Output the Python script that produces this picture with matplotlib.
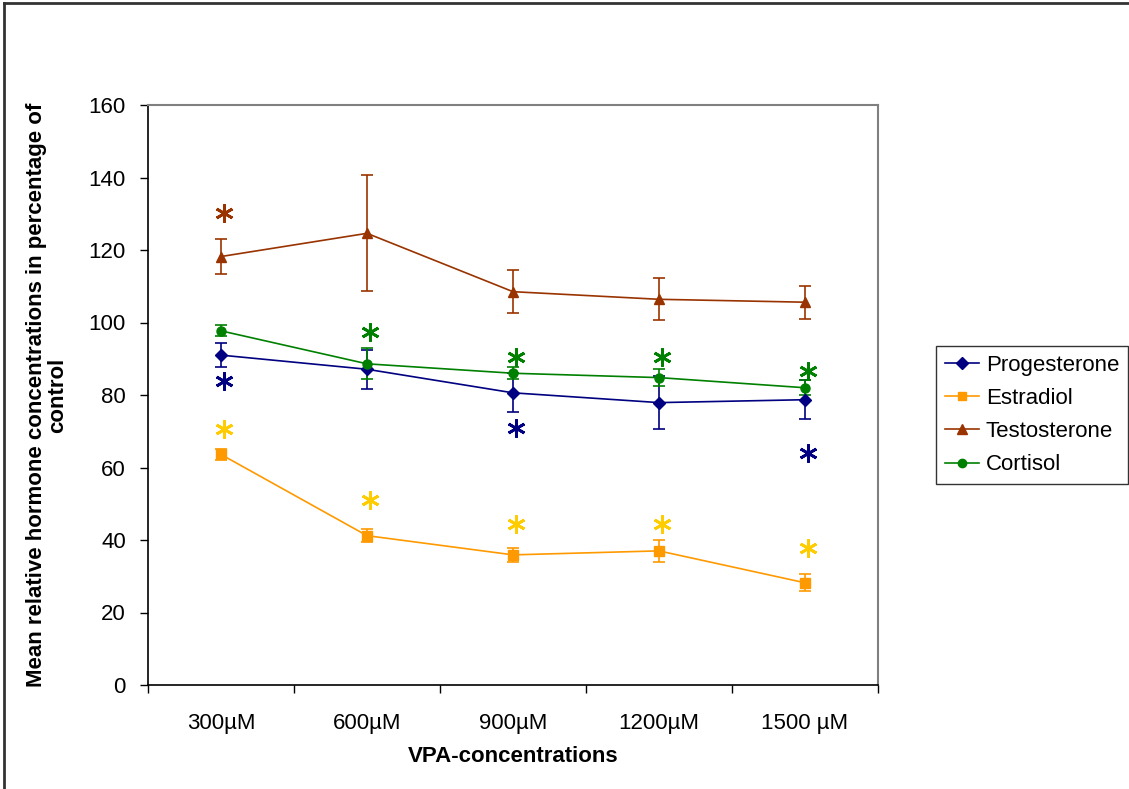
import matplotlib
matplotlib.use("Agg")
import matplotlib.pyplot as plt
from matplotlib.lines import Line2D
import numpy as np

plt.rcParams['font.family'] = ['Liberation Sans', 'DejaVu Sans']

# data
categories = ['300µM', '600µM', '900µM', '1200µM', '1500 µM']

progesterone = [91.0, 87.1, 80.6, 77.9, 78.7]
progesterone_err = [3.3, 5.4, 5.4, 7.3, 5.4]
estradiol = [63.6, 41.2, 35.9, 37.0, 28.2]
estradiol_err = [1.5, 1.8, 2.0, 3.0, 2.3]
testosterone = [118.2, 124.6, 108.5, 106.4, 105.6]
testosterone_err = [4.8, 16.0, 6.0, 5.8, 4.5]
cortisol = [97.7, 88.6, 86.0, 84.8, 82.0]
cortisol_err = [1.5, 4.3, 1.7, 2.3, 2.1]

# significance stars: (category index, y value)
stars_prog = [(0, 84.0), (2, 70.8), (4, 64.1)]
stars_estr = [(0, 70.6), (1, 51.0), (2, 44.3), (3, 44.3), (4, 37.7)]
stars_test = [(0, 130.3)]
stars_cort = [(1, 97.3), (2, 90.6), (3, 90.6), (4, 86.7)]

fig = plt.figure(figsize=(11.29, 7.89), dpi=100)
ax = fig.add_axes([148/1129, 104/789, 730/1129, 580/789])

x = np.arange(len(categories))

series = [
    ('Progesterone', progesterone, progesterone_err, '#000080', 'D', 6.5),
    ('Estradiol', estradiol, estradiol_err, '#FF9900', 's', 6.5),
    ('Testosterone', testosterone, testosterone_err, '#993300', '^', 7.5),
    ('Cortisol', cortisol, cortisol_err, '#008000', 'o', 6.5),
]
handles = []
for name, vals, err, col, mk, ms in series:
    ax.errorbar(x, vals, yerr=err, color=col, marker=mk, markersize=ms,
                linewidth=1.2, elinewidth=1.2, capsize=4, capthick=1.2)
    handles.append(Line2D([], [], color=col, marker=mk, markersize=ms - 0.5,
                          linewidth=1.2, label=name))

star_sets = [
    (stars_prog, '#000080'),
    (stars_estr, '#FFCC00'),
    (stars_test, '#993300'),
    (stars_cort, '#008000'),
]
for pts, col in star_sets:
    for i, yv in pts:
        ax.plot(i + 0.02, yv, marker=(6, 2, 0), color=col, markersize=13,
                markeredgewidth=2.0, linestyle='none')

ax.set_xlim(-0.5, len(categories) - 0.5)
ax.set_ylim(0, 160)
ax.set_yticks(np.arange(0, 161, 20))
ax.set_xticks(np.arange(-0.5, len(categories), 1.0))
ax.set_xticklabels([])
ax.set_xticks(x, minor=True)
ax.set_xticklabels(categories, minor=True)
ax.tick_params(axis='x', which='major', direction='out', length=6, width=1)
ax.tick_params(axis='x', which='minor', length=0, pad=20, labelsize=16)
ax.tick_params(axis='y', direction='out', length=6, width=1, pad=10, labelsize=16)

for s in ['top', 'right']:
    ax.spines[s].set_color('#808080')
    ax.spines[s].set_linewidth(1.5)
for s in ['left', 'bottom']:
    ax.spines[s].set_color('black')
    ax.spines[s].set_linewidth(1.2)

ax.set_xlabel('VPA-concentrations', fontsize=16, fontweight='bold')
ax.xaxis.set_label_coords(0.5, -0.105)
ax.set_ylabel('Mean relative hormone concentrations in percentage of\ncontrol',
              fontsize=16, fontweight='bold', linespacing=0.95)
ax.yaxis.set_label_coords(-0.11, 0.5)

leg = ax.legend(handles=handles, loc='center left',
                bbox_to_anchor=(936/1129, (789-415)/789),
                bbox_transform=fig.transFigure, fontsize=16, frameon=True,
                fancybox=False, handlelength=1.55, handletextpad=0.3,
                labelspacing=0.55, borderpad=0.4, borderaxespad=0)
leg.get_frame().set_edgecolor('black')
leg.get_frame().set_linewidth(1.0)

# outer chart border (left and top edges)
fig.add_artist(Line2D([4/1129, 4/1129], [0, 1 - 3/789], transform=fig.transFigure,
                      color='#333333', linewidth=2))
fig.add_artist(Line2D([4/1129, 1], [1 - 3/789, 1 - 3/789], transform=fig.transFigure,
                      color='#333333', linewidth=2))

fig.savefig('out.png', dpi=100)
